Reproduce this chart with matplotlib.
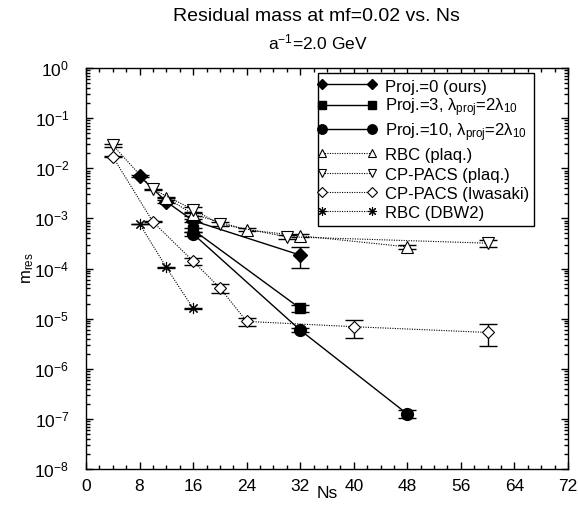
import matplotlib
matplotlib.use("Agg")
import matplotlib.pyplot as plt
from matplotlib.ticker import MultipleLocator, LogLocator, NullFormatter
from matplotlib.lines import Line2D
from matplotlib.legend_handler import HandlerLine2D

plt.rcParams['font.family'] = ['Liberation Sans', 'DejaVu Sans']
plt.rcParams['mathtext.fontset'] = 'custom'
plt.rcParams['mathtext.rm'] = 'Liberation Sans'
plt.rcParams['mathtext.it'] = 'Liberation Sans:italic'
plt.rcParams['mathtext.bf'] = 'Liberation Sans:bold'

# ---------------- data ----------------
ns_proj0 = [8, 12, 16, 32]
m_proj0 = [7.0e-3, 2.15e-3, 9.0e-4, 1.85e-4]
e_proj0 = [0.3e-3, 0.15e-3, 0.6e-4, 0.84e-4]

ns_proj3 = [16, 32]
m_proj3 = [5.9e-4, 1.6e-5]
e_proj3 = [0.5e-4, 0.25e-5]

ns_proj10 = [16, 32, 48]
m_proj10 = [4.9e-4, 5.9e-6, 1.25e-7]
e_proj10 = [0.4e-4, 0.6e-6, 0.23e-7]

ns_rbc_plaq = [12, 16, 24, 32, 48]
m_rbc_plaq = [2.6e-3, 1.2e-3, 5.9e-4, 4.5e-4, 2.7e-4]
e_rbc_plaq = [0.1e-3, 0.1e-3, 0.4e-4, 0.3e-4, 0.3e-4]

ns_cp_plaq = [4, 10, 16, 20, 30, 60]
m_cp_plaq = [2.9e-2, 3.8e-3, 1.5e-3, 7.7e-4, 4.3e-4, 3.2e-4]
e_cp_plaq = [0.2e-2, 0.1e-3, 0.15e-3, 0.6e-4, 0.4e-4, 0.5e-4]

ns_cp_iwa = [4, 10, 16, 20, 24, 40, 60]
m_cp_iwa = [1.7e-2, 8.5e-4, 1.4e-4, 4.1e-5, 8.8e-6, 6.9e-6, 5.3e-6]
e_cp_iwa = [0.05e-2, 0.2e-4, 0.25e-4, 0.9e-5, 1.7e-6, 2.7e-6, 2.5e-6]

ns_rbc_dbw2 = [8, 12, 16]
m_rbc_dbw2 = [7.8e-4, 1.05e-4, 1.6e-5]
e_rbc_dbw2 = [0.1e-4, 0.02e-4, 0.03e-5]

labels = [
    'Proj.=0 (ours)',
    'Proj.=3, λ$_{\\rm proj}$=2λ$_{10}$',
    'Proj.=10, λ$_{\\rm proj}$=2λ$_{10}$',
    'RBC (plaq.)',
    'CP-PACS (plaq.)',
    'CP-PACS (Iwasaki)',
    'RBC (DBW2)',
]

# ---------------- figure ----------------
fig = plt.figure(figsize=(5.78, 5.16), dpi=100)
ax = fig.add_axes([86/578, 1-469/516, 482/578, 401/516])

dot = (0, (1, 1.2))
cap = 6.5
common_eb = dict(ecolor='black', elinewidth=1.0, capsize=cap, capthick=1.0)

series = [
    (ns_proj0, m_proj0, e_proj0, dict(marker='D', ms=7, mfc='black', mec='black', ls='-', lw=1.0)),
    (ns_proj3, m_proj3, e_proj3, dict(marker='s', ms=7.5, mfc='black', mec='black', ls='-', lw=1.0)),
    (ns_proj10, m_proj10, e_proj10, dict(marker='o', ms=8.5, mfc='black', mec='black', ls='-', lw=1.0)),
    (ns_rbc_plaq, m_rbc_plaq, e_rbc_plaq, dict(marker='^', ms=8, mfc='white', mec='black', mew=0.8, ls=dot, lw=0.8)),
    (ns_cp_plaq, m_cp_plaq, e_cp_plaq, dict(marker='v', ms=8, mfc='white', mec='black', mew=0.8, ls=dot, lw=0.8)),
    (ns_cp_iwa, m_cp_iwa, e_cp_iwa, dict(marker='D', ms=6.5, mfc='white', mec='black', mew=0.8, ls=dot, lw=0.8)),
    (ns_rbc_dbw2, m_rbc_dbw2, e_rbc_dbw2, dict(marker=(8, 2, 0), ms=8, mfc='black', mec='black', mew=0.8, ls=dot, lw=0.8)),
]

handles = []
for (x, y, e, st), lab in zip(series, labels):
    ax.errorbar(x, y, yerr=e, fmt='none', **common_eb)
    h, = ax.plot(x, y, color='black', label=lab, **st)
    handles.append(h)

ax.set_yscale('log')
ax.set_xlim(0, 72)
ax.set_ylim(1e-8, 1)
ax.xaxis.set_major_locator(MultipleLocator(8))
ax.xaxis.set_minor_locator(MultipleLocator(2))
ax.yaxis.set_major_locator(LogLocator(base=10, numticks=20))
ax.yaxis.set_minor_locator(LogLocator(base=10, subs=range(2, 10), numticks=20))
ax.yaxis.set_minor_formatter(NullFormatter())

ax.tick_params(which='both', direction='in', top=True, right=True, width=1.0)
ax.tick_params(which='major', length=5)
ax.tick_params(which='minor', length=3)
ax.tick_params(axis='x', which='major', labelsize=12.5, pad=7)
ax.tick_params(axis='y', which='major', labelsize=12.5, pad=12)
for s in ax.spines.values():
    s.set_linewidth(1.0)


def small_marker(legend_handle, orig_handle):
    legend_handle.update_from(orig_handle)
    legend_handle.set_markersize(orig_handle.get_markersize() * 0.8)


leg = ax.legend(handles=handles, loc='upper right', bbox_to_anchor=(0.929, 0.987),
                borderaxespad=0, handlelength=3.0, handleheight=1.2, fontsize=12,
                handler_map={Line2D: HandlerLine2D(marker_pad=0, numpoints=2,
                                                   update_func=small_marker)},
                fancybox=False, edgecolor='black', framealpha=1,
                labelspacing=0.13, borderpad=0.25, handletextpad=0.8)
leg.get_frame().set_linewidth(1.0)

fig.text(316/578, 1-20.7/516, 'Residual mass at mf=0.02 vs. Ns', ha='center', va='baseline', fontsize=14)
fig.text(318/578, 1-49/516, 'a$^{-1}$=2.0 GeV', ha='center', va='baseline', fontsize=12.5)
fig.text(327/578, 1-494/516, 'Ns', ha='center', va='center', fontsize=12.5)
fig.text(28/578, 1-268/516, 'm$_{\\rm res}$', ha='center', va='center', rotation=90, fontsize=12)

fig.savefig('out.png', dpi=100)
